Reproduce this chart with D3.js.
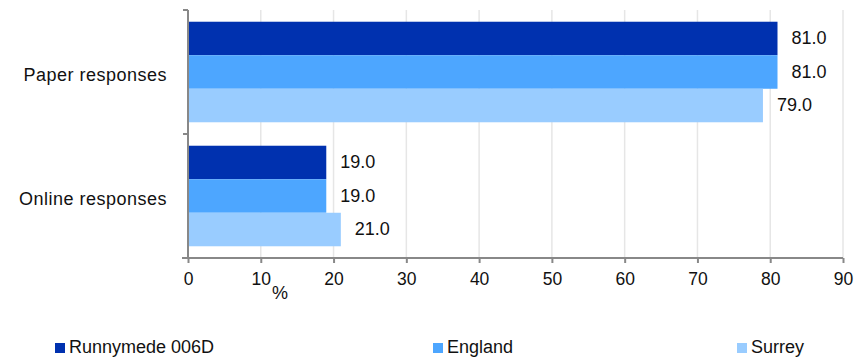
<!DOCTYPE html>
<html>
<head>
<meta charset="utf-8">
<script src="https://cdn.jsdelivr.net/npm/d3@7"></script>
<style>
  body { margin: 0; background: #fff; }
  svg { font-family: "Liberation Sans", Arial, sans-serif; }
</style>
</head>
<body>
<svg id="chart" width="863" height="358"></svg>
<script>
const categories = ["Paper responses", "Online responses"];
const seriesNames = ["Runnymede 006D", "England", "Surrey"];
const seriesColors = ["#0031af", "#4da6ff", "#99ccff"];
const runnymede = [81.0, 19.0];
const england = [81.0, 19.0];
const surrey = [79.0, 21.0];
const xTicks = [0, 10, 20, 30, 40, 50, 60, 70, 80, 90];

const series = [runnymede, england, surrey];
const svg = d3.select("#chart");
const plotLeft = 188, plotRight = 843, plotTop = 10, plotBottom = 258;

const x = d3.scaleLinear().domain([0, 90]).range([plotLeft, plotRight]);
const y = d3.scaleBand().domain(categories).range([plotTop, plotBottom]);
const inner = d3.scaleBand().domain(d3.range(seriesNames.length))
  .range([0, y.bandwidth()]).paddingOuter(0.35).paddingInner(0);

// grid
svg.append("g")
  .selectAll("line")
  .data(xTicks.slice(1))
  .enter().append("line")
  .attr("x1", d => x(d)).attr("x2", d => x(d))
  .attr("y1", plotTop).attr("y2", plotBottom)
  .attr("stroke", "#e6e6e6").attr("stroke-width", 1.5);

// bars
const groups = svg.append("g")
  .selectAll("g")
  .data(categories)
  .enter().append("g")
  .attr("transform", d => `translate(0, ${y(d)})`);

const rows = (c, ci) => series.map((s, si) => ({ v: s[ci], si }));

groups.selectAll("rect")
  .data(rows)
  .enter().append("rect")
  .attr("x", x(0))
  .attr("y", d => inner(d.si))
  .attr("width", d => x(d.v) - x(0))
  .attr("height", inner.bandwidth())
  .attr("fill", d => seriesColors[d.si]);

groups.selectAll("text")
  .data(rows)
  .enter().append("text")
  .attr("x", d => x(d.v) + 14)
  .attr("y", d => inner(d.si) + inner.bandwidth() / 2)
  .attr("dy", "0.32em")
  .attr("font-size", "18px")
  .attr("fill", "#111")
  .text(d => d.v.toFixed(1));

// x axis
const xAxis = svg.append("g")
  .attr("transform", `translate(0, ${plotBottom})`)
  .call(d3.axisBottom(x).tickValues(xTicks).tickSize(5).tickPadding(10).tickSizeOuter(0));
xAxis.select(".domain").remove();
xAxis.append("line")
  .attr("x1", plotLeft - 6).attr("x2", plotRight)
  .attr("stroke", "#888").attr("stroke-width", 2);
xAxis.selectAll(".tick line").attr("stroke", "#888").attr("stroke-width", 2);
xAxis.selectAll("text")
  .attr("font-size", "17.5px")
  .attr("fill", "#111")
  .attr("font-family", "Liberation Sans, Arial, sans-serif");

// y axis
const yAxis = svg.append("g").attr("transform", `translate(${plotLeft}, 0)`);
yAxis.append("line")
  .attr("y1", plotTop).attr("y2", plotBottom)
  .attr("stroke", "#888").attr("stroke-width", 2);
yAxis.selectAll("line.tk")
  .data([plotTop, y(categories[1]), plotBottom])
  .enter().append("line")
  .attr("class", "tk")
  .attr("x1", -5).attr("x2", 0)
  .attr("y1", d => d).attr("y2", d => d)
  .attr("stroke", "#888").attr("stroke-width", 2);
yAxis.selectAll("text")
  .data(categories)
  .enter().append("text")
  .attr("x", -21)
  .attr("y", d => y(d) + y.bandwidth() / 2)
  .attr("dy", "0.5em")
  .attr("text-anchor", "end")
  .attr("font-size", "18px")
  .attr("letter-spacing", "0.5px")
  .attr("fill", "#111")
  .text(d => d);

// unit label
svg.append("text")
  .attr("x", 280).attr("y", 299)
  .attr("text-anchor", "middle")
  .attr("font-size", "18px")
  .attr("fill", "#111")
  .text("%");

// legend
const legendX = [55, 433, 737];
const legend = svg.append("g")
  .selectAll("g")
  .data(seriesNames)
  .enter().append("g")
  .attr("transform", (d, i) => `translate(${legendX[i]}, 343)`);
legend.append("rect")
  .attr("width", 10).attr("height", 10)
  .attr("fill", (d, i) => seriesColors[i]);
legend.append("text")
  .attr("x", 14).attr("y", 10)
  .attr("font-size", "18px")
  .attr("fill", "#111")
  .text(d => d);
</script>
</body>
</html>
